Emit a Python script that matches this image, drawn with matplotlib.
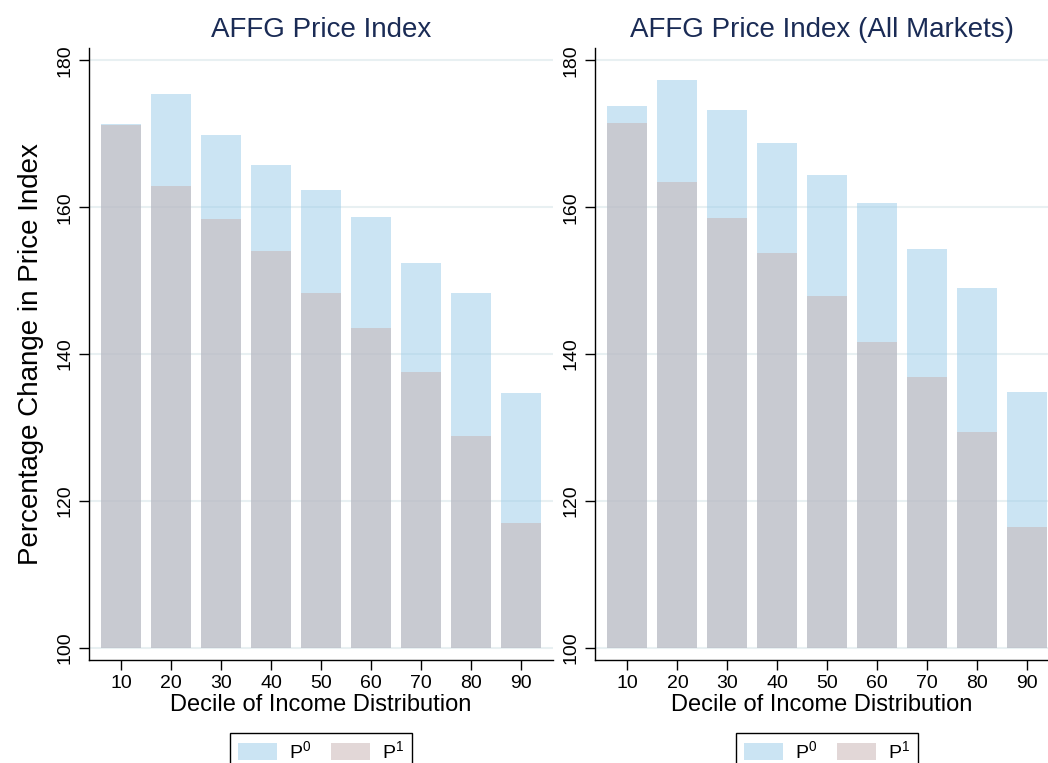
import matplotlib
matplotlib.use("Agg")
import matplotlib.pyplot as plt
import numpy as np

plt.rcParams['font.family'] = ['Liberation Sans', 'DejaVu Sans']
plt.rcParams['mathtext.fontset'] = 'custom'
plt.rcParams['mathtext.rm'] = 'Liberation Sans'
plt.rcParams['mathtext.it'] = 'Liberation Sans:italic'

deciles = [10, 20, 30, 40, 50, 60, 70, 80, 90]

# AFFG Price Index
p0_left = [171.4, 175.5, 169.9, 165.8, 162.4, 158.7, 152.4, 148.3, 134.7]
p1_left = [171.2, 162.9, 158.4, 154.0, 148.3, 143.5, 137.5, 128.8, 117.0]

# AFFG Price Index (All Markets)
p0_right = [173.8, 177.4, 173.3, 168.8, 164.4, 160.6, 154.3, 149.0, 134.8]
p1_right = [171.5, 163.5, 158.5, 153.8, 147.9, 141.6, 136.9, 129.4, 116.5]

titles = ["AFFG Price Index", "AFFG Price Index (All Markets)"]

c_p0 = '#99cbe9'
c_p1 = '#c7b1b1'
title_col = '#1a2b55'
grid_col = '#e8f0f2'

fig = plt.figure(figsize=(10.48, 7.63), dpi=100)
ax1 = fig.add_axes([89/1048, 103/763, 464/1048, 612/763])
ax2 = fig.add_axes([595/1048, 103/763, 453/1048, 612/763])

panels = [(ax1, p0_left, p1_left, (3.6, 96.4)),
          (ax2, p0_right, p1_right, (3.5, 94.2))]

for i, (ax, p0, p1, xl) in enumerate(panels):
    base = 100
    h0 = np.array(p0) - base
    h1 = np.array(p1) - base
    b0 = ax.bar(deciles, h0, bottom=base, width=8, color=c_p0, alpha=0.5,
                linewidth=0, zorder=2, label=r'$\mathrm{P}^{0}$')
    b1 = ax.bar(deciles, h1, bottom=base, width=8, color=c_p1, alpha=0.5,
                linewidth=0, zorder=3, label=r'$\mathrm{P}^{1}$')
    ax.set_xlim(*xl)
    ax.set_ylim(98.32, 181.7)
    ax.set_yticks([100, 120, 140, 160, 180])
    ax.set_xticks(deciles)
    ax.yaxis.grid(True, color=grid_col, linewidth=1.5, zorder=0)
    ax.set_axisbelow(True)
    for s in ['top', 'right']:
        ax.spines[s].set_visible(False)
    for s in ['left', 'bottom']:
        ax.spines[s].set_linewidth(1.0)
    ax.tick_params(axis='both', direction='out', length=7, width=1,
                   labelsize=14, pad=4)
    plt.setp(ax.get_yticklabels(), rotation=90, va='center')
    ax.set_title(titles[i], fontsize=20, color=title_col, pad=8)
    ax.set_xlabel('Decile of Income Distribution', fontsize=17, labelpad=1)

    cx = [321, 827][i] / 1048
    fig.legend(handles=[b0, b1], loc='upper center',
               bbox_to_anchor=(cx, 40/763), ncol=2, fontsize=14,
               frameon=True, fancybox=False, edgecolor='black',
               framealpha=1, handlelength=2.0, handleheight=1.0,
               handletextpad=0.65, columnspacing=1.0, borderpad=0.4)

ax1.set_ylabel('Percentage Change in Price Index', fontsize=20, labelpad=9)

fig.savefig('out.png', dpi=100)
